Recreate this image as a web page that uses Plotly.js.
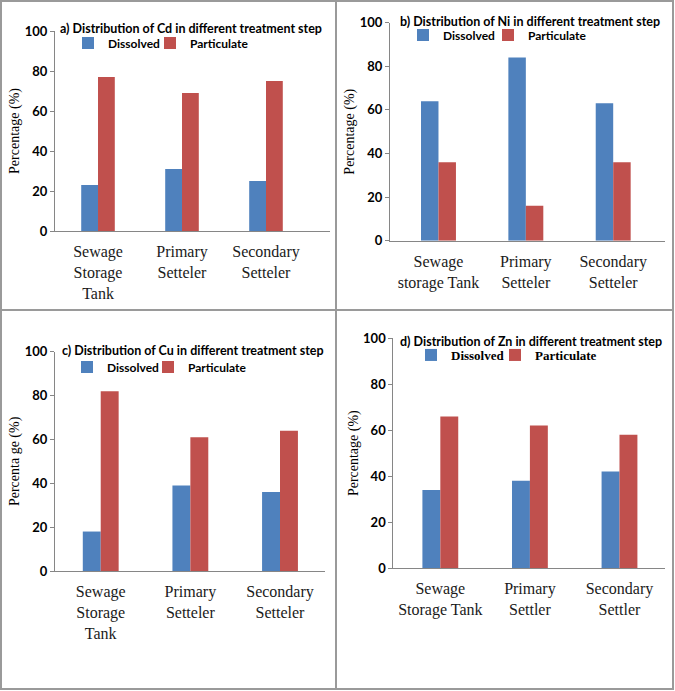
<!DOCTYPE html>
<html>
<head>
<meta charset="utf-8">
<script src="https://cdn.plot.ly/plotly-3.0.1.min.js"></script>
<style>html,body{margin:0;padding:0;background:#fff;}#chart{width:675px;height:691px;}</style>
</head>
<body>
<div id="chart"></div>
<script>
// ---- data ----
const seriesNames = ["Dissolved", "Particulate"];
const catsA = ["Sewage<br>Storage<br>Tank", "Primary<br>Setteler", "Secondary<br>Setteler"];
const catsB = ["Sewage<br>storage Tank", "Primary<br>Setteler", "Secondary<br>Setteler"];
const catsC = ["Sewage<br>Storage<br>Tank", "Primary<br>Setteler", "Secondary<br>Setteler"];
const catsD = ["Sewage<br>Storage Tank", "Primary<br>Settler", "Secondary<br>Settler"];
const cdDissolved = [23, 31, 25];
const cdParticulate = [77, 69, 75];
const niDissolved = [64, 84, 63];
const niParticulate = [36, 16, 36];
const cuDissolved = [18, 39, 36];
const cuParticulate = [82, 61, 64];
const znDissolved = [34, 38, 42];
const znParticulate = [66, 62, 58];
const titles = [
  "a) Distribution of Cd in different treatment step",
  "b) Distribution of Ni in different treatment step",
  "c) Distribution of Cu in different treatment step",
  "d) Distribution of Zn in different treatment step"
];
const yTitles = ["Percentage (%)", "Percentage (%)", "Percenta ge (%)", "Percentage (%)"];
const yTicks = [0, 20, 40, 60, 80, 100];

// ---- layout helpers ----
const W = 675, H = 691;
const fx = p => p / W;
const fy = p => 1 - p / H;
const BLUE = "#4F81BD", RED = "#C0504D", AX = "#868686";
const sans = "Lato, 'Liberation Sans', sans-serif";
const serif = "'Liberation Serif', 'Times New Roman', serif";

const panels = [
  {cats: catsA, d: cdDissolved, p: cdParticulate, xd: [55, 330], yd: [31, 231], xr: [-0.512, 2.762],
   title: [58, 29], leg: [68, 150, 43]},
  {cats: catsB, d: niDissolved, p: niParticulate, xd: [390, 665], yd: [22.7, 240.7], xr: [-0.555, 2.593],
   title: [398, 22], leg: [403, 488, 35]},
  {cats: catsC, d: cuDissolved, p: cuParticulate, xd: [55, 325], yd: [351.7, 571], xr: [-0.51, 2.502],
   title: [60, 350], leg: [67, 148, 367]},
  {cats: catsD, d: znDissolved, p: znParticulate, xd: [393.3, 665], yd: [338.3, 568], xr: [-0.525, 2.508],
   title: [398, 341], leg: [411, 495, 355]}
];

const traces = [];
const layout = {
  width: W, height: H,
  margin: {l: 0, r: 0, t: 0, b: 0},
  paper_bgcolor: "#fff", plot_bgcolor: "#fff",
  showlegend: true,
  barmode: "group", bargap: 0.6, bargroupgap: 0,
  annotations: [], shapes: []
};

panels.forEach((pn, i) => {
  const n = i + 1;
  const xa = n === 1 ? "x" : "x" + n;
  const ya = n === 1 ? "y" : "y" + n;
  const lgD = i === 0 ? "legend" : "legend" + (2 * i + 1);
  const lgP = "legend" + (2 * i + 2);
  const legFont = n === 4
    ? {family: serif, size: 13, color: "#000", weight: "bold"}
    : {family: sans, size: 12, color: "#000", weight: "bold"};
  traces.push({type: "bar", name: seriesNames[0], x: pn.cats, y: pn.d, xaxis: xa, yaxis: ya,
    marker: {color: BLUE}, legend: lgD, showlegend: true, hoverinfo: "skip"});
  traces.push({type: "bar", name: seriesNames[1], x: pn.cats, y: pn.p, xaxis: xa, yaxis: ya,
    marker: {color: RED}, legend: lgP, showlegend: true, hoverinfo: "skip"});

  layout["xaxis" + (n === 1 ? "" : n)] = {
    domain: [fx(pn.xd[0]), fx(pn.xd[1])], anchor: ya, type: "category",
    range: pn.xr, showline: true, linecolor: AX, linewidth: 1, ticks: "",
    showgrid: false, zeroline: false, fixedrange: true,
    tickfont: {family: serif, size: 16, color: "#1a1a1a"}, ticklabelstandoff: 6
  };
  layout["yaxis" + (n === 1 ? "" : n)] = {
    domain: [fy(pn.yd[1]), fy(pn.yd[0])], anchor: xa,
    range: [0, 100], tickvals: yTicks, showline: true, linecolor: AX, linewidth: 1,
    ticks: "outside", ticklen: 4, tickcolor: AX, showgrid: false, zeroline: false,
    tickfont: {family: sans, size: 13, color: "#000", weight: "bold"},
    title: {text: yTitles[i], font: {family: serif, size: 14, color: "#000"}, standoff: 1}
  };
  [[lgD, pn.leg[0]], [lgP, pn.leg[1]]].forEach(([name, lx]) => {
    layout[name] = {
      visible: true, orientation: "h", x: fx(lx), xanchor: "left",
      y: fy(pn.leg[2]), yanchor: "middle", font: legFont,
      bgcolor: "rgba(0,0,0,0)", itemwidth: 30
    };
  });
  layout.annotations.push({
    text: titles[i], xref: "paper", yref: "paper", x: fx(pn.title[0]), y: fy(pn.title[1]),
    xanchor: "left", yanchor: "middle", showarrow: false,
    font: {family: sans, size: 12.5, color: "#000", weight: "bold"}
  });
});

// panel borders
const B = "#9a9a9a";
[
  {x0: 1, y0: 1, x1: 673, y1: 689},
  {x0: 336, y0: 1, x1: 336, y1: 689},
  {x0: 1, y0: 310, x1: 673, y1: 310}
].forEach(s => {
  layout.shapes.push({type: s.x0 === s.x1 || s.y0 === s.y1 ? "line" : "rect",
    xref: "paper", yref: "paper", x0: fx(s.x0), x1: fx(s.x1), y0: fy(s.y0), y1: fy(s.y1),
    line: {color: B, width: 2}, layer: "above"});
});

Plotly.newPlot("chart", traces, layout, {displayModeBar: false, staticPlot: true});
</script>
</body>
</html>
